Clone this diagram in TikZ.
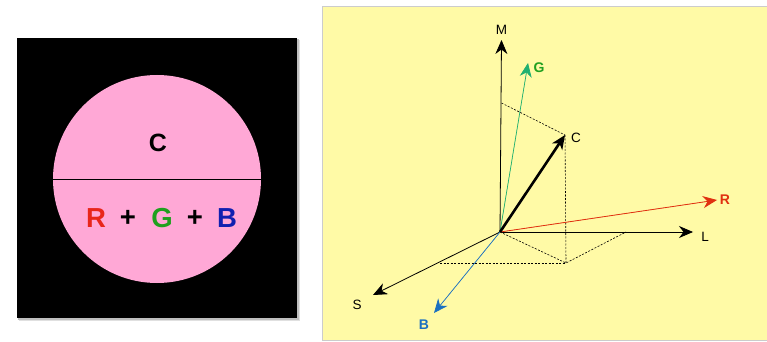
\documentclass[tikz,border=0pt]{standalone}
\usepackage{fontspec}
\setmainfont{Liberation Sans}
\usetikzlibrary{arrows.meta}
\definecolor{pinkc}{HTML}{FFA8D6}
\definecolor{yel}{HTML}{FFFAA6}
\definecolor{rc}{HTML}{E8261A}
\definecolor{gc}{HTML}{1EA01E}
\definecolor{bc}{HTML}{1020B0}
\definecolor{rline}{HTML}{E03010}
\definecolor{gline}{HTML}{20B070}
\definecolor{glab}{HTML}{20A020}
\definecolor{bline}{HTML}{1A70C0}
\begin{document}
\begin{tikzpicture}[x=1pt,y=-1pt,
  axis/.style={draw=black,line width=0.8pt,-{Stealth[length=14pt,width=12pt,inset=4.5pt]}},
  vec/.style={line width=0.8pt,-{Stealth[length=14pt,width=12pt,inset=4.5pt]}},
  guide/.style={draw=black,line width=0.6pt,dash pattern=on 2pt off 1.5pt},
  lab/.style={font=\fontsize{13.5}{13.5}\selectfont,inner sep=0pt},
  blab/.style={font=\fontsize{14}{14}\selectfont\bfseries,inner sep=0pt},
  big/.style={font=\fontsize{27.5}{27.5}\selectfont\bfseries,inner sep=0pt}]
\useasboundingbox (0,0) rectangle (767,342);
\fill[white] (0,0) rectangle (767,342);
% left panel
\fill[black!12] (19,40) rectangle (300,321);
\fill[black!25] (18,39) rectangle (298.5,319.5);
\fill[black] (17,38) rectangle (297,318);
\node[circle,fill=pinkc,minimum size=208pt,inner sep=0pt] (disk) at (157,179) {};
\draw[black,line width=0.8pt] (disk.west) -- (disk.east);
\node[big,font=\fontsize{25}{25}\selectfont\bfseries] (ctop) at (158,143) {C};
\node[big,text=rc] (rr) at (96,218) {R};
\node[big] (p1) at (128,218) {+};
\node[big,text=gc] (gg) at (162,218) {G};
\node[big] (p2) at (195,218) {+};
\node[big,text=bc] (bb) at (227,218) {B};
% right panel
\fill[yel,draw=black!20,line width=0.8pt] (322,6) rectangle (767,340);
\coordinate (O) at (500,232);
\coordinate (Mt) at (501.5,40);
\coordinate (Gt) at (528,63);
\coordinate (Ct) at (565,135);
\coordinate (Mp) at (501.5,103);
\coordinate (F) at (566,263);
\coordinate (Lp) at (626,232);
\coordinate (Sp) at (440,263);
\coordinate (St) at (373,295);
\coordinate (Bt) at (434,313);
\coordinate (Rt) at (717,200);
\coordinate (Lt) at (693,232);
% guides
\draw[guide] (Mp) -- (Ct);
\draw[guide] (Ct) -- (F);
\draw[guide] (Sp) -- (F);
\draw[guide] (O) -- (F) -- (Lp);
% axes
\draw[axis] (O) -- (Mt);
\draw[axis] (O) -- (Lt);
\draw[axis] (O) -- (St);
% vectors
\draw[vec,draw=gline,fill=gline,line width=0.7pt] (O) -- (Gt);
\draw[vec,draw=bline,fill=bline,line width=0.7pt] (O) -- (Bt);
\draw[vec,draw=rline,fill=rline,line width=0.8pt] (O) -- (Rt);
\draw[line width=2.6pt,-{Stealth[length=14pt,width=12pt,inset=4pt]}] (O) -- (Ct);
% labels
\node[lab] (lM) at (501.5,30) {M};
\node[lab] (lL) at (705,237) {L};
\node[lab] (lS) at (357,305) {S};
\node[lab] (lC) at (576,138) {C};
\node[blab,text=glab] (lG) at (539,68) {G};
\node[blab,text=rline] (lR) at (725,200) {R};
\node[blab,text=bline] (lB) at (424,325) {B};
\end{tikzpicture}
\end{document}
